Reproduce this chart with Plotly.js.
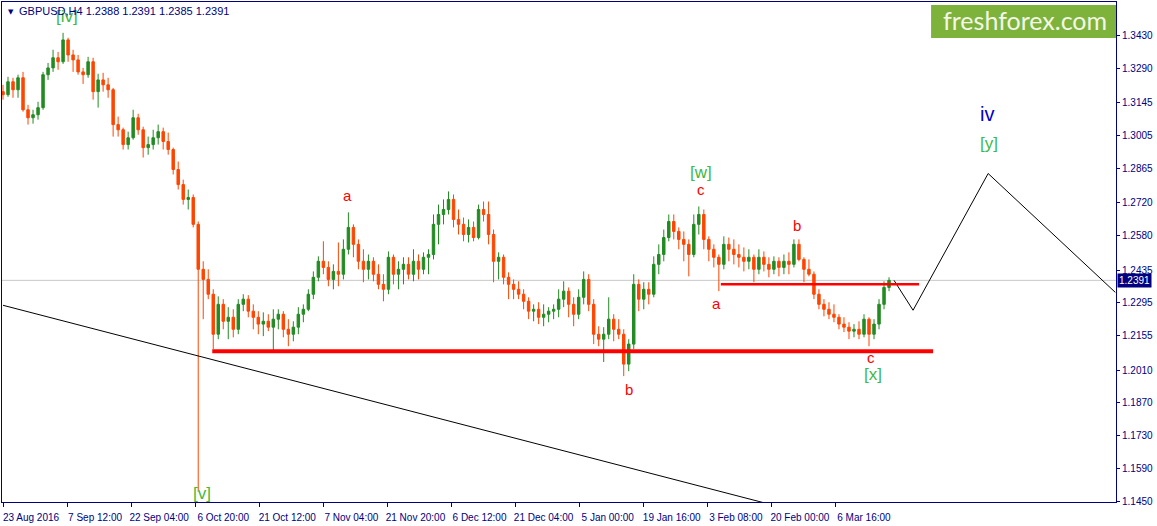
<!DOCTYPE html>
<html>
<head>
<meta charset="utf-8">
<script src="https://cdn.plot.ly/plotly-3.0.1.min.js"></script>
<style>
  html, body { margin: 0; padding: 0; background: #ffffff; }
  #chart { width: 1157px; height: 526px; }
</style>
</head>
<body>
<div id="chart"></div>
<script>
// ---- Data (GBPUSD, H4; one candle per 5 H4 bars) ----
const barStep = 5;
const openPrices = [
1.3193,1.3180,1.3235,1.3201,1.3252,1.3116,1.3082,1.3095,1.3125,1.3265,
1.3294,1.3337,1.3320,1.3413,1.3349,1.3328,1.3277,1.3265,1.3320,1.3193,
1.3243,1.3222,1.3201,1.3053,1.3031,1.2968,1.2997,1.3082,1.3031,1.2955,
1.2968,1.2997,1.3023,1.2981,1.2947,1.2862,1.2798,1.2735,1.2743,1.2629,
1.2438,1.2395,1.2332,1.2162,1.2289,1.2217,1.2234,1.2183,1.2289,1.2311,
1.2260,1.2234,1.2205,1.2217,1.2192,1.2226,1.2247,1.2183,1.2162,1.2192,
1.2247,1.2268,1.2332,1.2404,1.2472,1.2446,1.2395,1.2429,1.2417,1.2523,
1.2616,1.2544,1.2472,1.2438,1.2472,1.2417,1.2374,1.2353,1.2489,1.2417,
1.2438,1.2459,1.2417,1.2472,1.2438,1.2489,1.2501,1.2629,1.2671,1.2692,
1.2735,1.2650,1.2629,1.2586,1.2616,1.2573,1.2692,1.2671,1.2586,1.2472,
1.2489,1.2404,1.2374,1.2353,1.2332,1.2302,1.2260,1.2268,1.2234,1.2247,
1.2260,1.2268,1.2311,1.2345,1.2289,1.2247,1.2319,1.2395,1.2289,1.2162,
1.2141,1.2162,1.2226,1.2183,1.2162,1.2035,1.2120,1.2374,1.2311,1.2353,
1.2332,1.2459,1.2501,1.2573,1.2641,1.2599,1.2565,1.2544,1.2501,1.2629,
1.2671,1.2565,1.2523,1.2489,1.2459,1.2544,1.2523,1.2501,1.2489,1.2472,
1.2489,1.2438,1.2489,1.2459,1.2438,1.2472,1.2446,1.2472,1.2459,1.2544,
1.2480,1.2438,1.2417,1.2332,1.2289,1.2268,1.2247,1.2234,1.2205,1.2192,
1.2175,1.2183,1.2162,1.2226,1.2162,1.2205,1.2289,1.2361];
const highPrices = [
1.3222,1.3256,1.3252,1.3265,1.3277,1.3137,1.3116,1.3150,1.3277,1.3315,
1.3371,1.3362,1.3443,1.3422,1.3371,1.3349,1.3294,1.3341,1.3337,1.3269,
1.3273,1.3252,1.3209,1.3087,1.3040,1.3023,1.3116,1.3099,1.3044,1.3002,
1.3031,1.3053,1.3040,1.3019,1.2955,1.2896,1.2819,1.2777,1.2756,1.2641,
1.2472,1.2438,1.2353,1.2323,1.2311,1.2277,1.2268,1.2311,1.2332,1.2328,
1.2289,1.2260,1.2255,1.2247,1.2268,1.2268,1.2260,1.2226,1.2217,1.2277,
1.2289,1.2353,1.2429,1.2493,1.2557,1.2472,1.2459,1.2552,1.2565,1.2680,
1.2629,1.2565,1.2523,1.2501,1.2489,1.2459,1.2417,1.2514,1.2501,1.2472,
1.2489,1.2489,1.2523,1.2501,1.2510,1.2523,1.2671,1.2713,1.2735,1.2769,
1.2756,1.2692,1.2658,1.2650,1.2641,1.2713,1.2726,1.2726,1.2607,1.2510,
1.2501,1.2425,1.2395,1.2387,1.2353,1.2319,1.2289,1.2298,1.2289,1.2277,
1.2289,1.2353,1.2387,1.2361,1.2319,1.2353,1.2429,1.2417,1.2311,1.2196,
1.2192,1.2319,1.2247,1.2226,1.2183,1.2141,1.2417,1.2395,1.2383,1.2383,
1.2493,1.2544,1.2607,1.2671,1.2671,1.2616,1.2599,1.2565,1.2671,1.2705,
1.2692,1.2578,1.2544,1.2501,1.2578,1.2573,1.2565,1.2544,1.2531,1.2523,
1.2501,1.2523,1.2514,1.2489,1.2493,1.2489,1.2501,1.2510,1.2565,1.2565,
1.2489,1.2480,1.2429,1.2353,1.2311,1.2298,1.2289,1.2247,1.2234,1.2213,
1.2205,1.2217,1.2247,1.2234,1.2226,1.2311,1.2387,1.2404];
const lowPrices = [
1.3159,1.3171,1.3167,1.3167,1.3108,1.3053,1.3057,1.3074,1.3116,1.3243,
1.3277,1.3286,1.3311,1.3320,1.3277,1.3265,1.3226,1.3252,1.3159,1.3125,
1.3193,1.3167,1.3002,1.3002,1.2947,1.2947,1.2989,1.3010,1.2913,1.2925,
1.2947,1.2968,1.2947,1.2925,1.2841,1.2777,1.2713,1.2692,1.2616,1.1492,
1.2226,1.2311,1.2099,1.2141,1.2183,1.2141,1.2149,1.2162,1.2260,1.2234,
1.2183,1.2162,1.2154,1.2175,1.2086,1.2183,1.2149,1.2111,1.2132,1.2162,
1.2213,1.2260,1.2311,1.2387,1.2417,1.2366,1.2353,1.2366,1.2395,1.2501,
1.2489,1.2438,1.2383,1.2395,1.2387,1.2353,1.2302,1.2332,1.2374,1.2353,
1.2374,1.2395,1.2387,1.2395,1.2417,1.2417,1.2480,1.2544,1.2629,1.2671,
1.2616,1.2586,1.2557,1.2552,1.2557,1.2565,1.2641,1.2544,1.2383,1.2395,
1.2374,1.2311,1.2311,1.2311,1.2268,1.2226,1.2217,1.2205,1.2196,1.2213,
1.2226,1.2234,1.2277,1.2234,1.2196,1.2226,1.2289,1.2260,1.2120,1.2111,
1.2044,1.2141,1.2132,1.2141,1.1984,1.2005,1.2099,1.2260,1.2268,1.2289,
1.2319,1.2417,1.2472,1.2557,1.2565,1.2523,1.2472,1.2408,1.2489,1.2586,
1.2523,1.2472,1.2446,1.2345,1.2438,1.2472,1.2459,1.2446,1.2429,1.2438,
1.2383,1.2417,1.2429,1.2404,1.2417,1.2408,1.2417,1.2417,1.2446,1.2472,
1.2383,1.2408,1.2311,1.2268,1.2238,1.2226,1.2213,1.2183,1.2171,1.2141,
1.2149,1.2141,1.2149,1.2111,1.2141,1.2183,1.2268,1.2345];
const closePrices = [
1.3180,1.3235,1.3201,1.3252,1.3116,1.3082,1.3095,1.3125,1.3265,1.3294,
1.3337,1.3320,1.3413,1.3349,1.3328,1.3277,1.3265,1.3320,1.3193,1.3243,
1.3222,1.3201,1.3053,1.3031,1.2968,1.2997,1.3082,1.3031,1.2955,1.2968,
1.2997,1.3023,1.2981,1.2947,1.2862,1.2798,1.2735,1.2743,1.2629,1.2438,
1.2395,1.2332,1.2162,1.2289,1.2217,1.2234,1.2183,1.2289,1.2311,1.2260,
1.2234,1.2205,1.2217,1.2192,1.2226,1.2247,1.2183,1.2162,1.2192,1.2247,
1.2268,1.2332,1.2404,1.2472,1.2446,1.2395,1.2429,1.2417,1.2523,1.2616,
1.2544,1.2472,1.2438,1.2472,1.2417,1.2374,1.2353,1.2489,1.2417,1.2438,
1.2459,1.2417,1.2472,1.2438,1.2489,1.2501,1.2629,1.2671,1.2692,1.2735,
1.2650,1.2629,1.2586,1.2616,1.2573,1.2692,1.2671,1.2586,1.2472,1.2489,
1.2404,1.2374,1.2353,1.2332,1.2302,1.2260,1.2268,1.2234,1.2247,1.2260,
1.2268,1.2311,1.2345,1.2289,1.2247,1.2319,1.2395,1.2289,1.2162,1.2141,
1.2162,1.2226,1.2183,1.2162,1.2035,1.2120,1.2374,1.2311,1.2353,1.2332,
1.2459,1.2501,1.2573,1.2641,1.2599,1.2565,1.2544,1.2501,1.2629,1.2671,
1.2565,1.2523,1.2489,1.2459,1.2544,1.2523,1.2501,1.2489,1.2472,1.2489,
1.2438,1.2489,1.2459,1.2438,1.2472,1.2446,1.2472,1.2459,1.2544,1.2480,
1.2438,1.2417,1.2332,1.2289,1.2268,1.2247,1.2234,1.2205,1.2192,1.2175,
1.2183,1.2162,1.2226,1.2162,1.2205,1.2289,1.2361,1.2391];

// time axis labels (bar number -> date text)
const dateTickBars = [0, 64, 128, 192, 256, 320, 384, 448, 512, 576, 640, 704, 768, 832];
const dateTickText = ['23 Aug 2016','7 Sep 12:00','22 Sep 04:00','6 Oct 20:00','21 Oct 12:00',
  '7 Nov 04:00','21 Nov 20:00','6 Dec 12:00','21 Dec 04:00','5 Jan 00:00','19 Jan 16:00',
  '3 Feb 08:00','20 Feb 00:00','6 Mar 16:00'];
const priceTicks = [1.3430,1.3290,1.3145,1.3005,1.2865,1.2720,1.2580,1.2435,1.2295,1.2155,1.2010,1.1870,1.1730,1.1590,1.1450];

// analysis objects
const lastPrice = 1.2391;
const headerText = 'GBPUSD,H4 1.2388 1.2391 1.2385 1.2391';
const trendBars = [0, 768];
const trendPrices = [1.2285, 1.1437];
const projBars = [890, 909, 984, 1111];
const projPrices = [1.2391, 1.2264, 1.2845, 1.2340];
const supportBars = [209, 929];
const supportPrice = 1.2090;
const resistBars = [717, 915];
const resistPrice = 1.2374;
const waveText  = ['[iv]','[v]','a','b','[w]','c','a','b','c','[x]','iv','[y]'];
const waveBars  = [64, 199, 344, 625, 697, 697, 713, 793, 867, 869, 983, 985];
const wavePrice = [1.3512, 1.1484, 1.2752, 1.1929, 1.2849, 1.2777, 1.2294, 1.2624, 1.2062, 1.1991, 1.3099, 1.2972];
const waveKind  = ['g','g','r','r','g','r','r','r','r','g','b','g'];

// ---- Build the chart ----
const barIndex = openPrices.map((_, i) => i * barStep);
const NAVY = '#000080';
const kindStyle = {
  g: {color: '#3fb93f', size: 17},
  r: {color: '#ff0000', size: 15},
  b: {color: '#0000cd', size: 20}
};

const traces = [
  {
    type: 'candlestick',
    x: barIndex, open: openPrices, high: highPrices, low: lowPrices, close: closePrices,
    increasing: {line: {color: '#228B22', width: 1}, fillcolor: '#228B22'},
    decreasing: {line: {color: '#FF4500', width: 1}, fillcolor: '#FF4500'},
    whiskerwidth: 0,
    hoverinfo: 'none'
  },
  {
    type: 'scatter', mode: 'lines', x: trendBars, y: trendPrices,
    line: {color: '#000000', width: 1}, hoverinfo: 'none'
  },
  {
    type: 'scatter', mode: 'lines', x: projBars, y: projPrices,
    line: {color: '#000000', width: 1}, hoverinfo: 'none'
  }
];

const annotations = waveText.map((t, i) => ({
  x: waveBars[i], y: wavePrice[i], xref: 'x', yref: 'y', text: t, showarrow: false,
  font: {family: 'Liberation Sans, Arial, sans-serif', size: kindStyle[waveKind[i]].size, color: kindStyle[waveKind[i]].color},
  xanchor: 'center', yanchor: 'middle'
}));

annotations.push(
  {xref: 'paper', yref: 'paper', x: 0, y: 1, xanchor: 'left', yanchor: 'top', xshift: 4, yshift: -4,
   text: '▼', showarrow: false, font: {family: 'DejaVu Sans', size: 7, color: NAVY}},
  {xref: 'paper', yref: 'paper', x: 0, y: 1, xanchor: 'left', yanchor: 'top', xshift: 15, yshift: -1,
   text: headerText, showarrow: false, font: {family: 'Liberation Sans, Arial, sans-serif', size: 11, color: NAVY}},
  {xref: 'paper', yref: 'y', x: 1, y: lastPrice, xanchor: 'left', yanchor: 'middle', xshift: 1,
   text: lastPrice.toFixed(4), showarrow: false, bgcolor: NAVY, borderpad: 1,
   font: {family: 'Liberation Sans, Arial, sans-serif', size: 10, color: '#ffffff'}},
  {xref: 'paper', yref: 'paper', x: 0.918, y: 0.964, xanchor: 'center', yanchor: 'middle',
   text: 'freshforex.com', showarrow: false, font: {family: 'Lato, Open Sans, sans-serif', size: 25, color: '#f4f6e8'}}
);

const shapes = [
  {type: 'line', xref: 'paper', yref: 'y', x0: 0, x1: 1, y0: lastPrice, y1: lastPrice,
   line: {color: '#c8c8c8', width: 1}, layer: 'below'},
  {type: 'line', xref: 'x', yref: 'y', x0: supportBars[0], x1: supportBars[1], y0: supportPrice, y1: supportPrice,
   line: {color: '#ff0000', width: 4}},
  {type: 'line', xref: 'x', yref: 'y', x0: resistBars[0], x1: resistBars[1], y0: resistPrice, y1: resistPrice,
   line: {color: '#ff0000', width: 2.5}},
  {type: 'rect', xref: 'paper', yref: 'paper', x0: 0.834, x1: 1.0, y0: 0.928, y1: 0.994,
   fillcolor: '#7db33a', line: {width: 0}}
];

const axisFont = {family: 'Liberation Sans, Arial, sans-serif', size: 10, color: NAVY};

const layout = {
  width: 1157, height: 526,
  margin: {l: 2, r: 41, t: 2, b: 24, pad: 0},
  paper_bgcolor: '#ffffff', plot_bgcolor: '#ffffff',
  showlegend: false,
  xaxis: {
    range: [-1, 1111.7], showgrid: false, zeroline: false,
    showline: true, linecolor: NAVY, linewidth: 1, mirror: true,
    ticks: 'outside', ticklen: 4, tickcolor: NAVY, tickwidth: 1,
    tickmode: 'array', tickvals: dateTickBars, ticktext: dateTickText,
    tickfont: axisFont, ticklabelshift: 28, ticklabelstandoff: 2,
    rangeslider: {visible: false}, fixedrange: true
  },
  yaxis: {
    side: 'right', range: [1.1449, 1.3574], showgrid: false, zeroline: false,
    showline: true, linecolor: NAVY, linewidth: 1, mirror: true,
    ticks: 'outside', ticklen: 3, tickcolor: NAVY, tickwidth: 1,
    tickmode: 'array', tickvals: priceTicks, ticktext: priceTicks.map(v => v.toFixed(4)),
    tickfont: axisFont, fixedrange: true
  },
  shapes: shapes,
  annotations: annotations
};

Plotly.newPlot('chart', traces, layout, {staticPlot: true, displayModeBar: false});
</script>
</body>
</html>
